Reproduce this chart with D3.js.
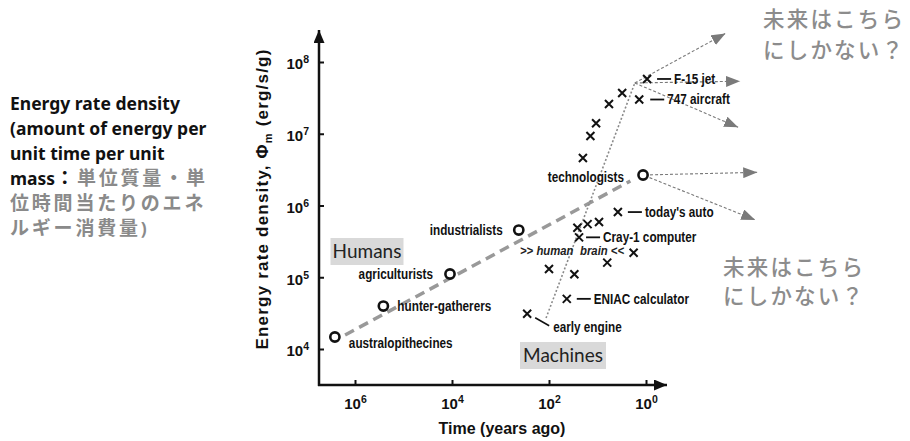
<!DOCTYPE html>
<html>
<head>
<meta charset="utf-8">
<script src="https://cdn.jsdelivr.net/npm/d3@7"></script>
<style>
  body { margin: 0; background: #fff; }
  svg { display: block; }
</style>
</head>
<body>
<svg id="chart" width="910" height="441"></svg>
<script>
// Human stages (circles)
const humanStages = ['australopithecines', 'hunter-gatherers', 'agriculturists', 'industrialists', 'technologists'];
const humanYearsAgo = [2.6e6, 2.6e5, 1.1e4, 4.2e2, 1.15];
const humanEnergy = [1.47e4, 3.97e4, 1.11e5, 4.55e5, 2.66e6];

// Machines (crosses); empty name = unlabelled point
const machineNames = ['early engine', 'ENIAC calculator', '', '', '', '', 'Cray-1 computer', '', '', '',
  "today's auto", '', '', '', '', '', 'F-15 jet', '747 aircraft'];
const machineYearsAgo = [282, 43, 100, 30, 6.3, 1.8, 24, 26, 16, 9.3, 3.8, 20, 14, 10.7, 5.8, 3.1, 0.95, 1.38];
const machineEnergy = [3.1e4, 5.0e4, 1.3e5, 1.1e5, 1.6e5, 2.2e5, 3.6e5, 4.9e5, 5.5e5, 5.9e5, 8.1e5,
  4.6e6, 9.3e6, 1.4e7, 2.6e7, 3.7e7, 5.8e7, 3.0e7];

// Trend lines
const humanTrendYears = [1.6e6, 2.1];
const humanTrendEnergy = [1.57e4, 2.2e6];
const machineTrendYears = [115, 1.7];
const machineTrendEnergy = [2.7e4, 5.1e7];

// "future" arrows
const futureMachineYears = [0.023, 0.0115, 0.0126];
const futureMachineEnergy = [2.5e8, 5.4e7, 1.23e7];
const futureHumanYears = [0.0051, 0.0056];
const futureHumanEnergy = [2.9e6, 6.3e5];

const brainEnergy = 2.4e5;

const xTicks = [1e6, 1e4, 1e2, 1];
const yTicks = [1e4, 1e5, 1e6, 1e7, 1e8];

const leftLines = [
  [['Energy rate density', '#111', 'en']],
  [['(amount of energy per', '#111', 'en']],
  [['unit time per unit', '#111', 'en']],
  [['mass', '#111', 'en'], ['：', '#111', 'ja'], ['単位質量・単', '#8a8a8a', 'ja']],
  [['位時間当たりのエネ', '#8a8a8a', 'ja']],
  [['ルギー消費量', '#8a8a8a', 'ja'], [')', '#8a8a8a', 'en']]
];
const futureText = ['未来はこちら', 'にしかない？'];

// label placement (layout only)
const humanLabelPos = {
  'australopithecines': { dx: 14, dy: 6, anchor: 'start' },
  'hunter-gatherers': { dx: 14, dy: 0, anchor: 'start' },
  'agriculturists': { dx: -17, dy: 0, anchor: 'end' },
  'industrialists': { dx: -16, dy: 0, anchor: 'end' },
  'technologists': { dx: -19, dy: 2, anchor: 'end' }
};
const machineLabelPos = {
  'F-15 jet': { dx: 10, dy: 0 },
  '747 aircraft': { dx: 11, dy: 0 },
  "today's auto": { dx: 10, dy: 0 },
  'Cray-1 computer': { dx: 7, dy: 0 },
  'ENIAC calculator': { dx: 10, dy: 0 }
};

const svg = d3.select('#chart');
const axisX0 = 319, axisY0 = 385, axisTop = 30, axisRight = 667;

const x = d3.scaleLog().domain([1e6, 1]).range([355, 646]);
const y = d3.scaleLog().domain([1e4, 1e8]).range([349, 62]);

const boldFont = "'Liberation Sans', Arial, sans-serif";

const defs = svg.append('defs');
function addHead(id, color, w, h) {
  defs.append('marker')
    .attr('id', id)
    .attr('markerUnits', 'userSpaceOnUse')
    .attr('markerWidth', w).attr('markerHeight', h)
    .attr('refX', w).attr('refY', h / 2)
    .attr('orient', 'auto')
    .append('path')
    .attr('d', `M0,0L${w},${h / 2}L0,${h}Z`)
    .attr('fill', color);
}
addHead('head-axis', '#111', 13, 11);
addHead('head-gray', '#7a7a7a', 14, 11);

// condensed bold label (Arial Narrow look)
function narrowLabel(px, py, text, anchor, opts) {
  opts = opts || {};
  const g = svg.append('g').attr('transform', `translate(${px},${py}) scale(0.84,1)`);
  return g.append('text')
    .attr('dy', '0.35em')
    .attr('text-anchor', anchor || 'start')
    .attr('font-family', boldFont)
    .attr('font-weight', opts.weight || 'bold')
    .attr('font-style', opts.style || 'normal')
    .attr('font-size', opts.size || 14)
    .attr('fill', opts.fill || '#111')
    .text(text);
}

// left description text, one text element per line
leftLines.forEach((parts, i) => {
  const t = svg.append('text')
    .attr('x', 10).attr('y', 110 + i * 25)
    .attr('font-weight', 'bold');
  parts.forEach(p => {
    const s = t.append('tspan').attr('fill', p[1]).text(p[0]);
    if (p[2] === 'en') {
      s.attr('font-family', "'Noto Sans', sans-serif").attr('font-size', 17.5);
    } else {
      s.attr('font-family', "'Noto Sans CJK JP', sans-serif").attr('font-size', 19).attr('letter-spacing', 2.8);
    }
  });
});

// axes
svg.append('line')
  .attr('x1', axisX0).attr('y1', axisY0 + 1).attr('x2', axisX0).attr('y2', axisTop)
  .attr('stroke', '#111').attr('stroke-width', 2.5)
  .attr('marker-end', 'url(#head-axis)');
svg.append('line')
  .attr('x1', axisX0 - 1).attr('y1', axisY0).attr('x2', axisRight).attr('y2', axisY0)
  .attr('stroke', '#111').attr('stroke-width', 2.5)
  .attr('marker-end', 'url(#head-axis)');

function sup(sel, v) {
  sel.text('');
  sel.append('tspan').text('10');
  sel.append('tspan').attr('font-size', 10.5).attr('dy', -6).text(Math.round(Math.log10(v)));
}

const yAxis = svg.append('g')
  .attr('transform', `translate(${axisX0},0)`)
  .call(d3.axisLeft(y).tickValues(yTicks).tickSize(-5).tickPadding(10).tickFormat(''));
yAxis.select('.domain').remove();
yAxis.selectAll('.tick line').attr('stroke', '#111').attr('stroke-width', 2);
yAxis.selectAll('.tick text')
  .attr('font-family', boldFont).attr('font-weight', 'bold').attr('font-size', 15).attr('fill', '#111')
  .attr('dy', '0.45em')
  .each(function(d) { sup(d3.select(this), d); });

const xAxis = svg.append('g')
  .attr('transform', `translate(0,${axisY0})`)
  .call(d3.axisBottom(x).tickValues(xTicks).tickSize(-5).tickPadding(11).tickFormat(''));
xAxis.select('.domain').remove();
xAxis.selectAll('.tick line').attr('stroke', '#111').attr('stroke-width', 2);
xAxis.selectAll('.tick text')
  .attr('font-family', boldFont).attr('font-weight', 'bold').attr('font-size', 15).attr('fill', '#111')
  .attr('dy', '0.85em')
  .each(function(d) { sup(d3.select(this), d); });

svg.append('text')
  .attr('x', 502).attr('y', 434)
  .attr('text-anchor', 'middle')
  .attr('font-family', boldFont).attr('font-weight', 'bold').attr('font-size', 16).attr('fill', '#111')
  .text('Time (years ago)');

const yLabel = svg.append('text')
  .attr('transform', 'translate(268,199) rotate(-90)')
  .attr('text-anchor', 'middle')
  .attr('letter-spacing', 1.2)
  .attr('font-family', boldFont).attr('font-weight', 'bold').attr('font-size', 17).attr('fill', '#111');
yLabel.append('tspan').text('Energy rate density, Φ');
yLabel.append('tspan').attr('font-size', 11).attr('dy', 4).text('m');
yLabel.append('tspan').attr('dy', -4).text(' (erg/s/g)');

// Humans / Machines tags
function tag(cx, cy, w, label) {
  svg.append('rect')
    .attr('x', cx - w / 2).attr('y', cy - 13).attr('width', w).attr('height', 27)
    .attr('fill', '#d9d9d9');
  svg.append('text')
    .attr('x', cx).attr('y', cy + 6.5)
    .attr('text-anchor', 'middle')
    .attr('font-family', "Lato, 'Open Sans', sans-serif").attr('font-size', 19).attr('fill', '#222')
    .text(label);
}
tag(367, 251, 73, 'Humans');
tag(563, 355, 86, 'Machines');

// trend lines
const line = d3.line().x(d => x(d[0])).y(d => y(d[1]));
svg.append('path')
  .attr('d', line(d3.zip(humanTrendYears, humanTrendEnergy)))
  .attr('fill', 'none').attr('stroke', '#999').attr('stroke-width', 3.5)
  .attr('stroke-dasharray', '10,6');
svg.append('path')
  .attr('d', line(d3.zip(machineTrendYears, machineTrendEnergy)))
  .attr('fill', 'none').attr('stroke', '#8a8a8a').attr('stroke-width', 1.6)
  .attr('stroke-dasharray', '2,2');

// future arrows
function arrow(x0, y0, x1, y1, inset) {
  const dx = x1 - x0, dy = y1 - y0, len = Math.hypot(dx, dy);
  svg.append('line')
    .attr('x1', x0 + dx / len * inset).attr('y1', y0 + dy / len * inset)
    .attr('x2', x1).attr('y2', y1)
    .attr('stroke', '#7a7a7a').attr('stroke-width', 1.1)
    .attr('stroke-dasharray', '3,2')
    .attr('marker-end', 'url(#head-gray)');
}
const mTop = [x(machineTrendYears[1]), y(machineTrendEnergy[1])];
futureMachineYears.forEach((yr, i) => arrow(mTop[0], mTop[1], x(yr), y(futureMachineEnergy[i]), 0));
const hEnd = [x(humanYearsAgo[4]), y(humanEnergy[4])];
futureHumanYears.forEach((yr, i) => arrow(hEnd[0], hEnd[1], x(yr), y(futureHumanEnergy[i]), 7));

// human circles
humanStages.forEach((name, i) => {
  const cx = x(humanYearsAgo[i]), cy = y(humanEnergy[i]);
  svg.append('circle')
    .attr('cx', cx).attr('cy', cy).attr('r', 4.6)
    .attr('fill', '#fff').attr('stroke', '#111').attr('stroke-width', 2.6);
  const p = humanLabelPos[name];
  narrowLabel(cx + p.dx, cy + p.dy, name, p.anchor);
});

// machine crosses
machineNames.forEach((name, i) => {
  const cx = x(machineYearsAgo[i]), cy = y(machineEnergy[i]);
  svg.append('path')
    .attr('d', `M${cx - 4},${cy - 4}L${cx + 4},${cy + 4}M${cx - 4},${cy + 4}L${cx + 4},${cy - 4}`)
    .attr('stroke', '#111').attr('stroke-width', 2);
  if (!name) return;
  if (name === 'early engine') {
    svg.append('line')
      .attr('x1', cx + 8).attr('y1', cy + 4).attr('x2', cx + 22).attr('y2', cy + 12)
      .attr('stroke', '#111').attr('stroke-width', 1.5);
    narrowLabel(cx + 26, cy + 13, name, 'start');
    return;
  }
  const p = machineLabelPos[name];
  svg.append('line')
    .attr('x1', cx + p.dx).attr('y1', cy + p.dy).attr('x2', cx + p.dx + 14).attr('y2', cy + p.dy)
    .attr('stroke', '#111').attr('stroke-width', 1.8);
  narrowLabel(cx + p.dx + 17, cy + p.dy, name, 'start');
});

// human brain annotation
narrowLabel(520, y(brainEnergy), '>> human', 'start', { style: 'italic', size: 13.5, fill: '#222' });
narrowLabel(580, y(brainEnergy), 'brain <<', 'start', { style: 'italic', size: 13.5, fill: '#222' });

// Japanese call-outs
function callout(x0, y0, gap) {
  futureText.forEach((t, i) => {
    svg.append('text')
      .attr('x', x0).attr('y', y0 + i * gap)
      .attr('dy', '0.35em')
      .attr('font-family', "'Noto Sans CJK JP', sans-serif").attr('font-size', 21.5)
      .attr('font-weight', 500)
      .attr('letter-spacing', 2.2)
      .attr('fill', '#8c8c8c')
      .text(t);
  });
}
callout(763, 19, 31);
callout(723, 267, 29);
</script>
</body>
</html>
